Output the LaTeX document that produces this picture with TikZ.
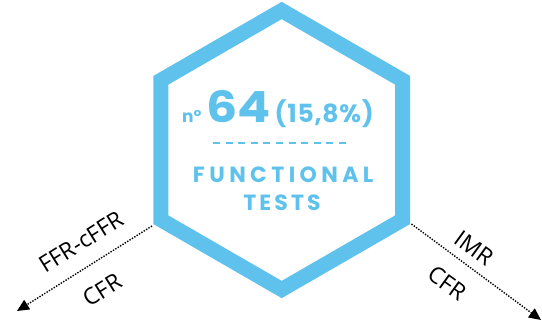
\documentclass[tikz,border=0pt]{standalone}
\usepackage{fontspec}
\usepackage{graphicx}
\setmainfont{Open Sans}
\newfontfamily\popfont{Poppins}
\usetikzlibrary{arrows.meta}
\definecolor{hexblue}{HTML}{5FC2EC}
\tikzset{
  hexline/.style={draw=hexblue, line width=15pt, line join=miter},
  conn/.style={draw=black, line width=1.4pt, dash pattern=on 1.4pt off 1.4pt, -{Triangle[length=12pt,width=11pt]}},
  lbl/.style={font=\fontsize{23}{23}\selectfont, inner sep=0pt},
  bluetxt/.style={text=hexblue, inner sep=0pt, font=\popfont\bfseries},
  dashrule/.style={draw=hexblue, line width=2pt, dash pattern=on 7pt off 5.6pt}
}
\begin{document}
\begin{tikzpicture}[x=1pt,y=-1pt]
\useasboundingbox (0,0) rectangle (542,330);
% hexagon
\draw[hexline, shift={(281.7,150)}] (90:139.5) -- (150:139.5) -- (210:139.5) -- (270:139.5) -- (330:139.5) -- (30:139.5) -- cycle;
% anchor points for connectors
\coordinate (sl) at (152,226);
\coordinate (sr) at (411.5,224);
\coordinate (el) at (17,311);
\coordinate (er) at (541,320);
\draw[conn] (sl) -- (el);
\draw[conn] (sr) -- (er);
% labels
\node[lbl, rotate=32] (lffr) at (81,242) {FFR-cFFR};
\node[lbl, rotate=32] (lcfr) at (102,290) {CFR};
\node[lbl, rotate=-36] (rimr) at (474,248) {IMR};
\node[lbl, rotate=-36] (rcfr) at (447,283) {CFR};
% central text
\node[bluetxt, anchor=base west] (nn) at (182,122) {\fontsize{17}{17}\selectfont n\textdegree};
\node[bluetxt, anchor=base west] (num) at (206,122) {\scalebox{1.14}[1]{\fontsize{43}{43}\selectfont 64}};
\node[bluetxt, anchor=base east] (pct) at (374,122) {\fontsize{25}{25}\selectfont\addfontfeature{LetterSpace=3}(15,8\%)};
\coordinate (dl) at (213,143);
\coordinate (dr) at (350,143);
\draw[dashrule] (dl) -- (dr);
\node[bluetxt, anchor=base] (fun) at (281,182) {\fontsize{22}{22}\selectfont\addfontfeature{LetterSpace=20}FUNCTIONAL\kern-4.4pt};
\node[bluetxt, anchor=base] (tst) at (280.5,210) {\fontsize{22}{22}\selectfont\addfontfeature{LetterSpace=14}TESTS\kern-3pt};
\end{tikzpicture}
\end{document}
